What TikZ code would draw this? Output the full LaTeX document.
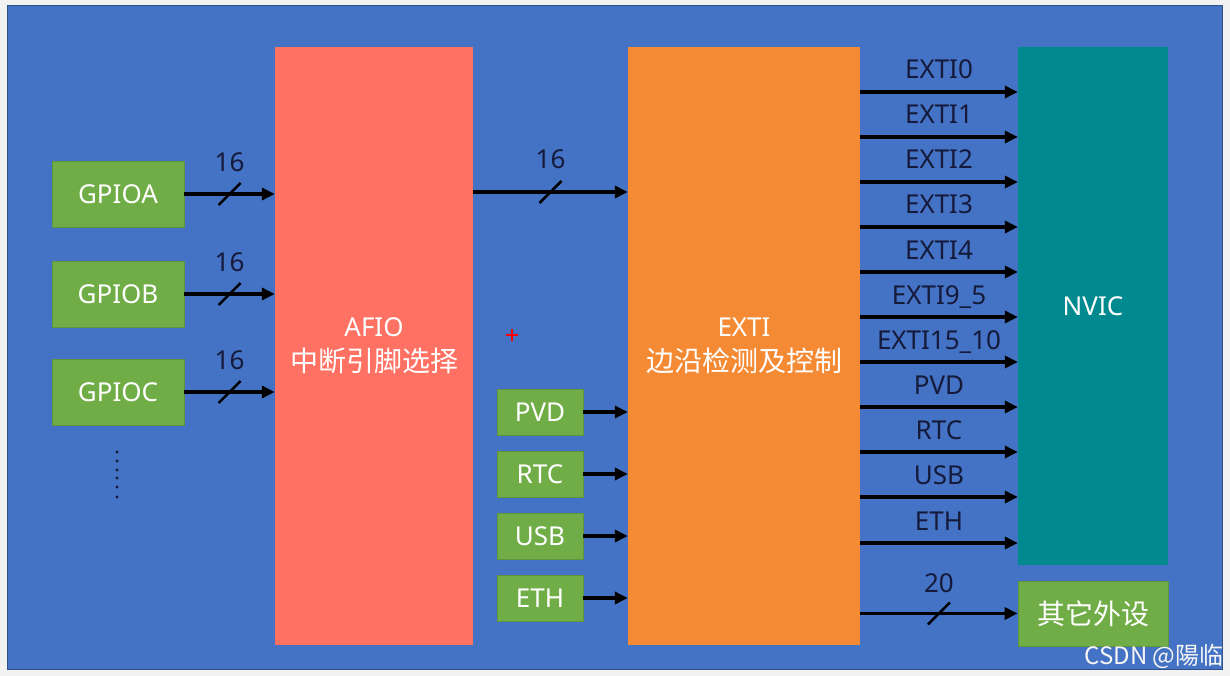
\documentclass[tikz,border=0pt]{standalone}
\usepackage{fontspec}
\setmainfont{Noto Sans}
\newfontfamily\cjk{Noto Sans CJK SC}
\usetikzlibrary{arrows.meta}
\definecolor{bgblue}{HTML}{4472C4}
\definecolor{gpiogreen}{HTML}{70AD47}
\definecolor{afiored}{HTML}{FF7163}
\definecolor{extiorange}{HTML}{F58A35}
\definecolor{nvicteal}{HTML}{00898F}
\definecolor{labelink}{HTML}{151A3A}
\tikzset{
  box/.style={inner sep=0pt,text=white,font=\fontsize{26}{35}\selectfont,align=center},
  greenbox/.style={box,fill=gpiogreen,draw=gpiogreen!85!black,line width=0.8pt},
  sig/.style={-{Triangle[length=13pt,width=12pt]},line width=3.5pt,black},
  bus/.style={line width=2.5pt,black},
  wire/.style={text=labelink,font=\fontsize{26}{30}\selectfont},
}
\begin{document}
\begin{tikzpicture}[x=1pt,y=-1pt]
  \useasboundingbox (0,0) rectangle (1230,676);
  \fill[gray!10] (0,0) rectangle (1230,676);
  \draw[fill=bgblue,draw=bgblue!70!black,line width=1pt] (7,6) rectangle (1222,669);

  % ports
  \node[greenbox,minimum width=132pt,minimum height=66pt] (gpioa) at (118,194) {GPIOA};
  \node[greenbox,minimum width=132pt,minimum height=66pt] (gpiob) at (118,294) {GPIOB};
  \node[greenbox,minimum width=132pt,minimum height=66pt] (gpioc) at (118,392) {GPIOC};
  \foreach \y in {452,461,470,478,487,497}
    \fill[labelink] (117,\y) circle (1.6);

  % main blocks
  \node[box,fill=afiored,minimum width=198pt,minimum height=598pt] (afio) at (374,346)
    {AFIO\\{\cjk\fontsize{28}{35}\selectfont 中断引脚选择}};
  \node[box,fill=extiorange,minimum width=232pt,minimum height=598pt] (exti) at (744,346)
    {EXTI\\{\cjk\fontsize{28}{35}\selectfont 边沿检测及控制}};
  \node[box,fill=nvicteal,minimum width=150pt,minimum height=518pt] (nvic) at (1093,306) {NVIC};
  \node[greenbox,minimum width=150pt,minimum height=65pt,font=\cjk\fontsize{28}{35}\selectfont]
    (other) at (1093,613.5) {其它外设};

  % other sources
  \node[greenbox,minimum width=86pt,minimum height=46pt] (pvd) at (540,412) {PVD};
  \node[greenbox,minimum width=86pt,minimum height=46pt] (rtc) at (540,474) {RTC};
  \node[greenbox,minimum width=86pt,minimum height=46pt] (usb) at (540,536) {USB};
  \node[greenbox,minimum width=86pt,minimum height=46pt] (eth) at (540,598) {ETH};

  % GPIO -> AFIO, 16 lines each
  \draw[sig] (gpioa.east) -- (gpioa -| afio.west) coordinate[midway] (sa);
  \draw[sig] (gpiob.east) -- (gpiob -| afio.west) coordinate[midway] (sb);
  \draw[sig] (gpioc.east) -- (gpioc -| afio.west) coordinate[midway] (sc);
  \draw[bus] ([shift={(-11,11)}]sa) -- ([shift={(11,-11)}]sa);
  \draw[bus] ([shift={(-11,11)}]sb) -- ([shift={(11,-11)}]sb);
  \draw[bus] ([shift={(-11,11)}]sc) -- ([shift={(11,-11)}]sc);
  \node[wire] (na) at ([yshift=32pt]sa) {16};
  \node[wire] (nb) at ([yshift=32pt]sb) {16};
  \node[wire] (nc) at ([yshift=32pt]sc) {16};

  % AFIO -> EXTI
  \draw[sig] (afio.east |- 0,192) -- (exti.west |- 0,192) coordinate[midway] (sd);
  \draw[bus] ([shift={(-11,11)}]sd) -- ([shift={(11,-11)}]sd);
  \node[wire] (nd) at ([yshift=33pt]sd) {16};

  \draw[sig] (pvd.east) -- (pvd -| exti.west);
  \draw[sig] (rtc.east) -- (rtc -| exti.west);
  \draw[sig] (usb.east) -- (usb -| exti.west);
  \draw[sig] (eth.east) -- (eth -| exti.west);

  % EXTI -> NVIC
  \draw[sig] (exti.east |- 0,92) -- (nvic.west |- 0,92) node[wire,midway,anchor=base,yshift=13pt] {EXTI0};
  \draw[sig] (exti.east |- 0,137) -- (nvic.west |- 0,137) node[wire,midway,anchor=base,yshift=13pt] {EXTI1};
  \draw[sig] (exti.east |- 0,182) -- (nvic.west |- 0,182) node[wire,midway,anchor=base,yshift=13pt] {EXTI2};
  \draw[sig] (exti.east |- 0,227) -- (nvic.west |- 0,227) node[wire,midway,anchor=base,yshift=13pt] {EXTI3};
  \draw[sig] (exti.east |- 0,272) -- (nvic.west |- 0,272) node[wire,midway,anchor=base,yshift=13pt] {EXTI4};
  \draw[sig] (exti.east |- 0,317) -- (nvic.west |- 0,317) node[wire,midway,anchor=base,yshift=13pt] {EXTI9\_5};
  \draw[sig] (exti.east |- 0,362) -- (nvic.west |- 0,362) node[wire,midway,anchor=base,yshift=13pt] {EXTI15\_10};
  \draw[sig] (exti.east |- 0,407) -- (nvic.west |- 0,407) node[wire,midway,anchor=base,yshift=13pt] {PVD};
  \draw[sig] (exti.east |- 0,452) -- (nvic.west |- 0,452) node[wire,midway,anchor=base,yshift=13pt] {RTC};
  \draw[sig] (exti.east |- 0,497) -- (nvic.west |- 0,497) node[wire,midway,anchor=base,yshift=13pt] {USB};
  \draw[sig] (exti.east |- 0,543) -- (nvic.west |- 0,543) node[wire,midway,anchor=base,yshift=13pt] {ETH};

  % EXTI -> other peripherals, 20 lines
  \draw[sig] (other -| exti.east) -- (other.west) coordinate[midway] (se);
  \draw[bus] ([shift={(-11,11)}]se) -- ([shift={(11,-11)}]se);
  \node[wire] (ne) at ([yshift=30pt]se) {20};

  \draw[red,line width=1.5pt] (506,335) -- (518,335) (512,329) -- (512,341);
  \node[font=\cjk\fontsize{24}{24}\selectfont,text=white!92!gray,anchor=east] (mark) at (1227,656) {CSDN @陽临};
\end{tikzpicture}
\end{document}
